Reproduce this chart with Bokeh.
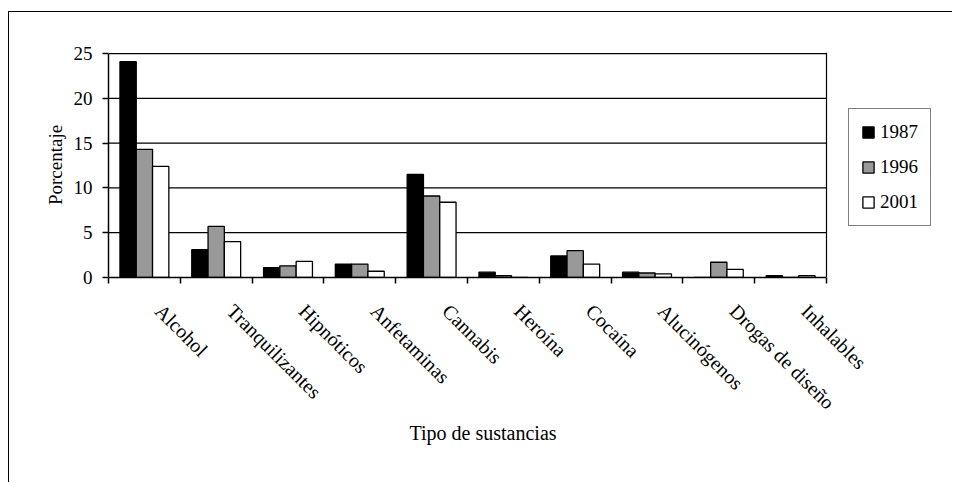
import numpy as np
from bokeh.plotting import figure
from bokeh.models import (ColumnDataSource, Range1d, FixedTicker, Legend, LegendItem, Span, Title)
from bokeh.embed import file_html
from bokeh.resources import INLINE

categories = ["Alcohol", "Tranquilizantes", "Hipnóticos", "Anfetaminas", "Cannabis",
              "Heroína", "Cocaína", "Alucinógenos", "Drogas de diseño", "Inhalables"]
years = ["1987", "1996", "2001"]
v1987 = [24.1, 3.1, 1.1, 1.5, 11.5, 0.6, 2.4, 0.6, 0.0, 0.2]
v1996 = [14.3, 5.7, 1.3, 1.5, 9.1, 0.2, 3.0, 0.5, 1.7, 0.0]
v2001 = [12.4, 4.0, 1.8, 0.7, 8.4, 0.0, 1.5, 0.4, 0.9, 0.2]
colors = ["#000000", "#999999", "#ffffff"]
y_ticks = [0, 5, 10, 15, 20, 25]
x_title = "Tipo de sustancias"
y_title = "Porcentaje"

FONT = "Liberation Serif"
n = len(categories)
pos = np.arange(1, n + 1)
bw = 0.227
label_shift = 0.2

# layout (pixels)
FIG_W, FIG_H = 944, 471
PLOT_L, PLOT_R = 108, 826     # plot area in window pixels
x_lo, x_hi = 0.5, n + 0.5
x_end = x_lo + n * (953 - PLOT_L) / (PLOT_R - PLOT_L)  # frame extends to window edge (legend room)

p = figure(width=FIG_W, height=FIG_H, output_backend="svg", toolbar_location=None,
           x_range=Range1d(x_lo, x_end), y_range=Range1d(0, 25.12),
           min_border_left=99, min_border_right=0, min_border_top=40,
           min_border_bottom=206)
p.margin = (11, 0, 0, 8)
p.styles = {"border-top": "1px solid black", "border-left": "1px solid black"}
p.outline_line_color = None
p.background_fill_color = "white"
p.border_fill_color = "white"
p.grid.visible = False

# horizontal grid lines (only over the plot area)
gsrc = ColumnDataSource(dict(y=y_ticks[1:]))
p.segment(x0=x_lo, x1=x_hi, y0="y", y1="y", source=gsrc, line_color="black", line_width=1.2)
p.add_layout(Span(location=x_hi, dimension="height", line_color="black", line_width=1.2))

renderers = []
for k, (yr, vals, col) in enumerate(zip(years, [v1987, v1996, v2001], colors)):
    src = ColumnDataSource(dict(x=pos + (k - 1) * bw, top=vals))
    r = p.vbar(x="x", top="top", width=bw, source=src, fill_color=col,
               line_color="black", line_width=1.3)
    renderers.append(r)

# y axis
ya = p.yaxis[0]
ya.ticker = FixedTicker(ticks=y_ticks)
ya.bounds = (0, 25)
ya.axis_label = y_title
ya.axis_label_text_font = FONT
ya.axis_label_text_font_size = "19px"
ya.axis_label_text_font_style = "normal"
ya.axis_label_text_color = "black"
ya.axis_label_standoff = 5
ya.major_label_text_font = FONT
ya.major_label_text_font_size = "19px"
ya.major_label_text_color = "black"
ya.major_label_standoff = 10
ya.major_tick_out = 6
ya.major_tick_in = 0
ya.minor_tick_out = 0
ya.minor_tick_in = 0
ya.axis_line_width = 1.5
ya.major_tick_line_width = 1.5

# x axis
label_ticks = [float(x) + label_shift for x in pos]
xa = p.xaxis[0]
xa.bounds = (x_lo, x_hi)
xa.ticker = FixedTicker(ticks=label_ticks, minor_ticks=list(np.arange(x_lo, x_hi + 0.01, 1.0)))
xa.major_label_overrides = {t: c for t, c in zip(label_ticks, categories)}
xa.major_label_orientation = -np.pi / 4
xa.major_label_text_font = FONT
xa.major_label_text_font_size = "20px"
xa.major_label_text_color = "black"
xa.major_label_standoff = 24
xa.major_tick_out = 0
xa.major_tick_in = 0
xa.minor_tick_out = 6
xa.minor_tick_in = 0
xa.minor_tick_line_width = 1.5
xa.axis_line_width = 1.5

# x axis title, centred under the bars
xt = Title(text=x_title, align="left", offset=301, standoff=-10,
           text_font=FONT, text_font_size="20px", text_font_style="normal",
           text_color="black")
p.add_layout(xt, "below")

legend = Legend(items=[LegendItem(label=y, renderers=[r]) for y, r in zip(years, renderers)],
                location=(740, 51), orientation="vertical")
legend.border_line_color = "black"
legend.border_line_width = 1.2
legend.background_fill_alpha = 1
legend.label_text_font = FONT
legend.label_text_font_size = "19px"
legend.label_text_color = "black"
legend.glyph_width = 14
legend.glyph_height = 14
legend.label_height = 14
legend.label_standoff = 5
legend.spacing = 13
legend.padding = 12
legend.margin = 0
p.add_layout(legend, "center")

open("out.html", "w").write(file_html(p, INLINE))
